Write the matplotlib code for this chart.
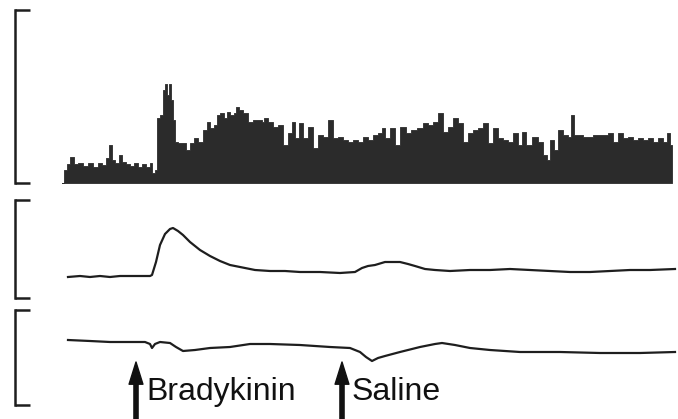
import matplotlib.pyplot as plt

# top trace: integrated nerve activity (ratemeter), time in s, height in a.u.
top_t = [0, 3, 6, 10, 13, 18, 23, 28, 33, 38, 42, 46, 48, 51, 55, 58, 62, 66, 70, 74,
         78, 82, 86, 89, 91, 94, 96, 99, 102, 104, 106, 108, 110, 112, 114, 118, 122,
         126, 130, 133, 138, 143, 146, 150, 153, 156, 160, 163, 166, 170, 173, 175,
         178, 183, 188, 193, 198, 201, 203, 208, 213, 218, 223, 228, 231, 235, 238,
         243, 248, 253, 258, 263, 268, 273, 278, 283, 288, 293, 298, 303, 308, 313,
         318, 321, 325, 330, 335, 341, 346, 351, 358, 363, 368, 373, 378, 383, 388,
         393, 398, 403, 408, 413, 418, 423, 428, 433, 438, 443, 448, 453, 458, 461,
         466, 473, 478, 483, 486, 490, 493, 498, 503, 508, 510, 513, 518, 523, 528,
         533, 538, 543, 548, 553, 558, 563, 568, 573, 578, 583, 588, 593, 598, 603,
         606, 609, 610]
top_v = [0, 13, 19, 26, 19, 20, 17, 20, 16, 20, 18, 25, 38, 23, 20, 28, 21, 19, 17, 20,
         16, 19, 16, 20, 10, 13, 65, 68, 93, 99, 88, 99, 83, 63, 41, 40, 40,
         33, 40, 45, 41, 53, 61, 55, 58, 68, 70, 65, 71, 68, 70, 76,
         73, 70, 61, 63, 63, 61, 65, 61, 56, 58, 38, 50, 61, 45, 60,
         45, 56, 35, 48, 46, 63, 45, 46, 43, 41, 43, 41, 46, 43, 48,
         50, 55, 45, 55, 38, 56, 50, 53, 55, 60, 58, 61, 70, 51, 56,
         65, 60, 41, 50, 53, 55, 60, 40, 55, 45, 43, 41, 50, 38, 51,
         38, 46, 41, 28, 23, 43, 33, 53, 48, 46, 68, 48, 48, 46, 46,
         48, 48, 48, 50, 41, 50, 45, 46, 43, 45, 43, 45, 41, 45, 41,
         50, 38, 0]

# middle trace
mid_t = [6, 18, 28, 38, 48, 58, 68, 78, 88, 90, 94, 98, 103, 108, 111, 116, 121, 128,
         138, 148, 158, 168, 178, 193, 208, 223, 238, 258, 278, 293, 300, 306, 313,
         323, 338, 346, 353, 363, 373, 388, 408, 428, 448, 468, 488, 508, 528, 548,
         568, 588, 613]
mid_v = [21, 22, 21, 22, 21, 22, 22, 22, 22, 23, 36, 53, 64, 69, 70, 67, 63, 56,
         48, 42, 37, 33, 31, 28, 27, 27, 26, 26, 25, 26, 30, 32, 33,
         36, 36, 34, 32, 29, 28, 27, 28, 28, 29, 28, 27, 26, 26, 27,
         28, 28, 29]

# bottom trace
bot_t = [6, 28, 48, 68, 83, 88, 90, 93, 98, 108, 114, 121, 133, 148, 168, 188, 208,
         238, 268, 288, 298, 304, 310, 316, 323, 338, 358, 373, 380, 393, 408, 428,
         458, 498, 538, 578, 613]
bot_v = [65, 64, 63, 63, 63, 61, 57, 61, 63, 62, 58, 54, 55, 57, 58, 61, 61,
         60, 58, 57, 53, 48, 44, 47, 49, 53, 58, 61, 62, 60, 57, 55,
         53, 53, 52, 52, 53]

stim_t = [74, 280]
stim_labels = ['Bradykinin', 'Saline']

W, H = 678, 419
fig = plt.figure(figsize=(W / 100, H / 100), dpi=100)
ink = '#1e1e1e'


def panel(top_px, bot_px, ymax):
    ax = fig.add_axes([15 / W, (H - bot_px) / H, 663 / W, (bot_px - top_px) / H])
    ax.set_xlim(-47, 616)
    ax.set_ylim(0, ymax)
    for s in ['top', 'right', 'bottom']:
        ax.spines[s].set_visible(False)
    ax.spines['left'].set_linewidth(1.8)
    ax.spines['left'].set_color(ink)
    ax.set_xticks([])
    ax.set_yticks([0, ymax])
    ax.tick_params(axis='y', direction='in', length=11, width=1.8, color=ink,
                   labelleft=False)
    ax.patch.set_visible(False)
    return ax


ax1 = panel(10, 183, 173)
ax1.fill_between(top_t, top_v, 0, step='mid', color='#2b2b2b', lw=0.6,
                 edgecolor='#2b2b2b')

ax2 = panel(200, 298, 98)
ax2.plot(mid_t, mid_v, color=ink, lw=1.6)

ax3 = panel(310, 405, 95)
ax3.plot(bot_t, bot_v, color=ink, lw=1.6)

for t, lab in zip(stim_t, stim_labels):
    ax3.annotate('', xy=(t, 43), xytext=(t, -16), annotation_clip=False,
                 arrowprops=dict(width=3, headwidth=10, headlength=16, shrink=0,
                                 color='#111111'))
    ax3.text(t + 10, 5, lab, fontsize=23, family=['Liberation Sans', 'DejaVu Sans'],
             color='#111111', va='baseline', ha='left', clip_on=False)

fig.savefig('out.png', dpi=100)
